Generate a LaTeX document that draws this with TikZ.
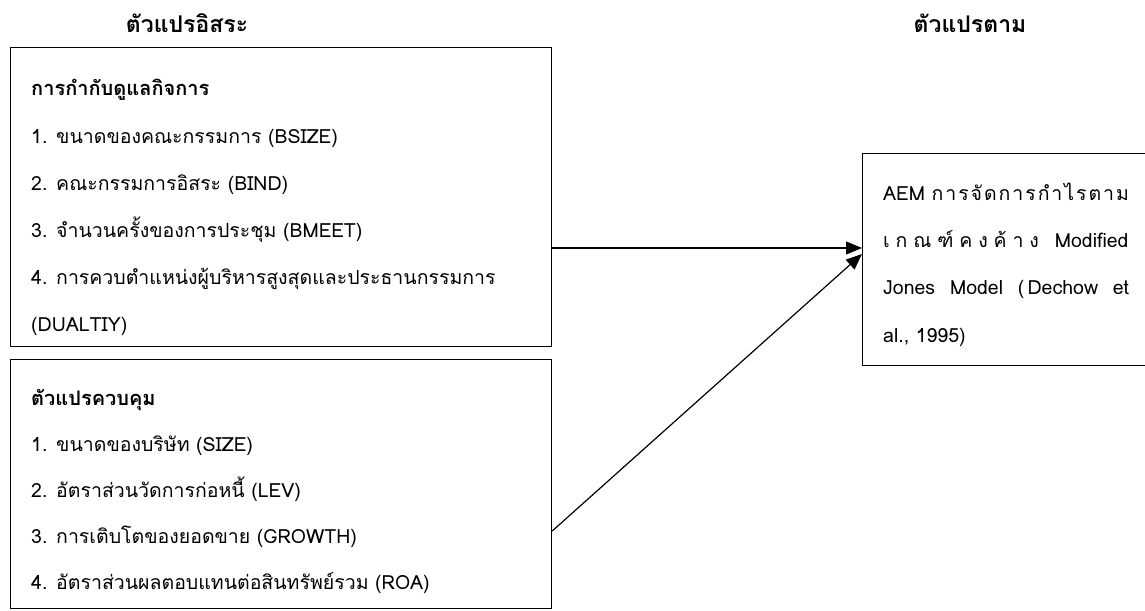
\documentclass[tikz,border=0pt]{standalone}
\usepackage{fontspec}
\setmainfont[Script=Thai]{Loma}
\usetikzlibrary{arrows.meta}
\tikzset{
  box/.style={draw=black, line width=1.2pt, rectangle, inner sep=0pt, anchor=north west},
  txt/.style={anchor=base west, inner sep=0pt, font=\fontsize{19.5}{23}\selectfont},
  btxt/.style={txt, font=\fontsize{20}{23}\selectfont\bfseries},
  head/.style={anchor=base, inner sep=0pt, font=\fontsize{23}{27}\selectfont\bfseries},
  arr/.style={line width=1.2pt, -{Triangle[length=16pt,width=13pt]}}
}
\begin{document}
\begin{tikzpicture}[x=1pt,y=-1pt]
\useasboundingbox (0,0) rectangle (1145,610);
\clip (0,0) rectangle (1145,610);
% boxes
\node[box, minimum width=541pt, minimum height=299pt] (b1) at (10,47) {};
\node[box, minimum width=541pt, minimum height=249pt] (b2) at (10,359) {};
\node[box, minimum width=320pt, minimum height=212pt] (b3) at (862,153) {};
% headers
\node[head] (h1) at (187,33) {ตัวแปรอิสระ};
\node[head] (h2) at (970,33) {ตัวแปรตาม};
% box 1 text
\node[btxt] (t10) at (31,95) {การกำกับดูแลกิจการ};
\node[txt] (t11) at (31,143) {1. ขนาดของคณะกรรมการ (BSIZE)};
\node[txt] (t12) at (31,190) {2. คณะกรรมการอิสระ (BIND)};
\node[txt] (t13) at (31,237) {3. จำนวนครั้งของการประชุม (BMEET)};
\node[txt] (t14) at (31,284) {4. การควบตำแหน่งผู้บริหารสูงสุดและประธานกรรมการ};
\node[txt] (t15) at (31,331) {(DUALTIY)};
% box 2 text
\node[btxt] (t20) at (31,405) {ตัวแปรควบคุม};
\node[txt] (t21) at (31,451) {1. ขนาดของบริษัท (SIZE)};
\node[txt] (t22) at (31,497) {2. อัตราส่วนวัดการก่อหนี้ (LEV)};
\node[txt] (t23) at (31,543) {3. การเติบโตของยอดขาย (GROWTH)};
\node[txt] (t24) at (31,589) {4. อัตราส่วนผลตอบแทนต่อสินทรัพย์รวม (ROA)};
% box 3 text
\node[txt] (t31) at (883,200) {AEM {\addfontfeature{LetterSpace=10}การจัดการกำไรตาม}};
\node[txt] (t32) at (883,247) {{\addfontfeature{LetterSpace=30}เกณฑ์คงค้าง}\hspace{16pt}Modified};
\node[txt] (t33) at (883,294) {\makebox[246pt][s]{Jones Model (\,Dechow et}};
\node[txt] (t34) at (883,342) {al., 1995)};
% connectors
\coordinate (s1) at (b1.east |- 0,248);
\coordinate (e1) at (b3.west |- 0,248);
\coordinate (s2) at (b2.east |- 0,531);
\coordinate (e2) at (b3.west |- 0,254);
\draw[arr] (s1) -- (e1);
\draw[arr] (s2) -- (e2);
\end{tikzpicture}
\end{document}
